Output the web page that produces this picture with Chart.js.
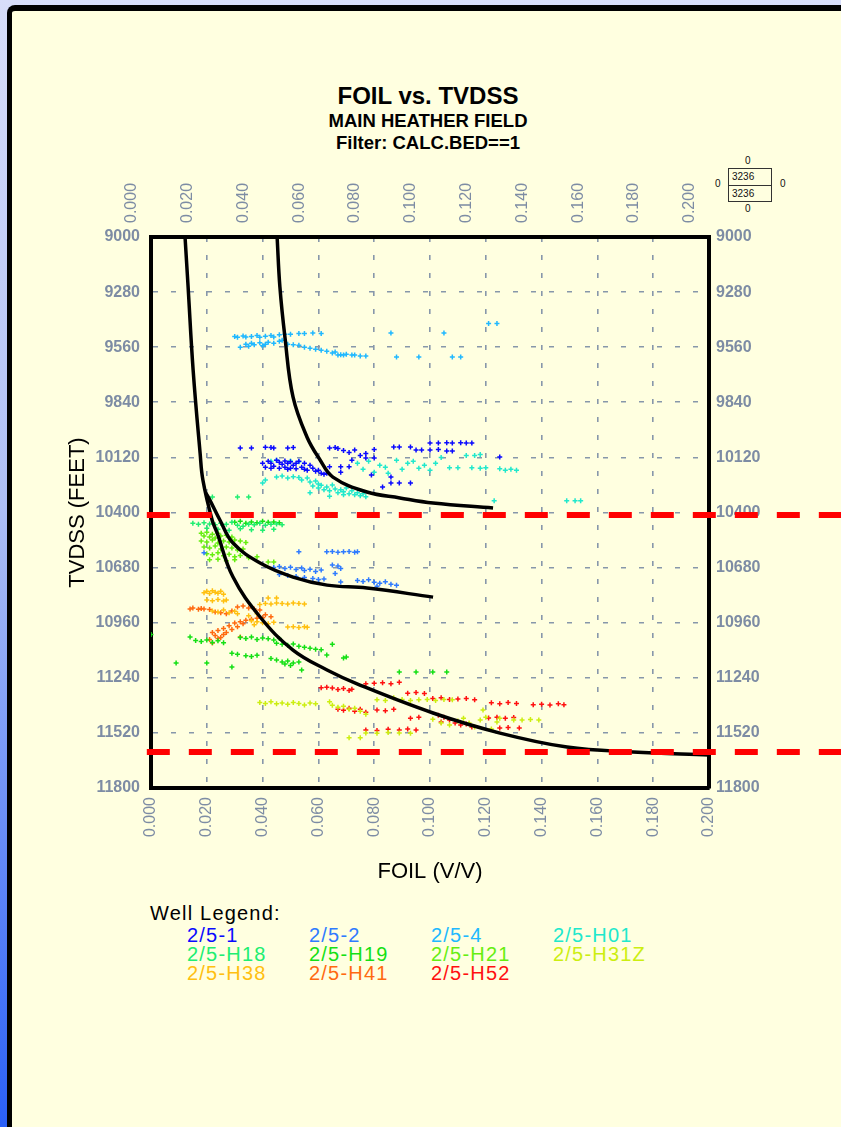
<!DOCTYPE html>
<html>
<head>
<meta charset="utf-8">
<script src="https://cdn.jsdelivr.net/npm/chart.js@4.4.1/dist/chart.umd.min.js"></script>
<style>
  html, body { margin: 0; padding: 0; }
  body {
    width: 841px; height: 1127px; overflow: hidden; position: relative;
    background: linear-gradient(to bottom, #d8defa 0%, #aebff6 45%, #2a60f8 100%);
    font-family: 'Liberation Sans', Arial, sans-serif;
  }
  #frame {
    position: absolute; left: 7px; top: 5px; width: 900px; height: 1200px;
    background: #ffffe0; border-left: 5px solid #000; border-top: 6px solid #000;
    border-top-left-radius: 8px;
  }
  .ttl { position: absolute; left: 228px; width: 400px; text-align: center; font-weight: bold; color: #000; white-space: nowrap; }
  #chartFoil { position: absolute; left: 0; top: 0; }
  .leg { position: absolute; font-size: 20px; line-height: 20px; letter-spacing: 1.2px; white-space: nowrap; }
  .box { position: absolute; left: 728px; top: 168px; width: 42px; height: 32px; border: 1px solid #333; }
  .box div { height: 16px; font-size: 10px; line-height: 16px; padding-left: 3px; color: #111; }
  .box div + div { border-top: 1px solid #333; height: 15px; }
  .z { position: absolute; font-size: 10px; line-height: 10px; color: #111; }
</style>
</head>
<body>
<div id="frame"></div>
<div class="ttl" style="top:84px;font-size:24px;line-height:24px;">FOIL vs. TVDSS</div>
<div class="ttl" style="top:110px;font-size:18.5px;line-height:22px;">MAIN HEATHER FIELD</div>
<div class="ttl" style="top:132px;font-size:18.5px;line-height:22px;">Filter: CALC.BED==1</div>

<div class="z" style="left:745px;top:156px;">0</div>
<div class="z" style="left:715px;top:179px;">0</div>
<div class="z" style="left:780px;top:179px;">0</div>
<div class="z" style="left:745px;top:204px;">0</div>
<div class="box"><div>3236</div><div>3236</div></div>

<canvas id="chartFoil" width="841" height="900"></canvas>
<div id="legend"></div>

<script>
// ===== well names / colours =====
const wellNames = ['2/5-1', '2/5-2', '2/5-4', '2/5-H01', '2/5-H18', '2/5-H19',
                   '2/5-H21', '2/5-H31Z', '2/5-H38', '2/5-H41', '2/5-H52'];
const wellColors = ['#0a0aff', '#2f7bff', '#20b8ff', '#20e8cc', '#20ee70', '#14e014',
                    '#66ee10', '#ccee10', '#ffc010', '#ff6a10', '#ff1010'];

// tick values
const foilTicks = [0, 0.02, 0.04, 0.06, 0.08, 0.10, 0.12, 0.14, 0.16, 0.18, 0.20];
const tvdssTicks = [9000, 9280, 9560, 9840, 10120, 10400, 10680, 10960, 11240, 11520, 11800];

// ===== samples per well: [FOIL, TVDSS] =====
const w25_1 = [[0.032,10072],[0.036,10072],[0.041,10068],[0.043,10070],[0.044,10072],[0.049,10072],[0.051,10070],
  [0.064,10072],[0.066,10070],[0.067,10075],[0.069,10085],[0.071,10095],[0.073,10082],[0.075,10110],[0.077,10100],
  [0.080,10080],[0.087,10067],[0.089,10067],[0.093,10067],[0.095,10082],[0.097,10082],[0.100,10082],[0.103,10080],
  [0.100,10047],[0.103,10047],[0.106,10045],[0.108,10047],[0.111,10045],[0.113,10047],[0.115,10047],[0.106,10087],
  [0.108,10087],[0.125,10118],[0.040,10150],[0.042,10140],[0.043,10150],[0.045,10135],[0.046,10145],[0.047,10155],
  [0.048,10138],[0.049,10150],[0.050,10142],[0.051,10160],[0.052,10150],[0.053,10140],[0.041,10170],[0.043,10175],
  [0.044,10165],[0.046,10175],[0.048,10170],[0.049,10180],[0.050,10175],[0.052,10178],[0.054,10170],[0.055,10180],
  [0.056,10185],[0.058,10175],[0.059,10190],[0.060,10185],[0.057,10160],[0.055,10150],[0.061,10200],[0.062,10205],
  [0.063,10200],[0.064,10168],[0.068,10168],[0.071,10168],[0.077,10123],[0.080,10123],[0.072,10135],[0.079,10210],
  [0.086,10220],[0.086,10250],[0.089,10250],[0.093,10250],[0.083,10270],[0.068,10195]];
const w25_2 = [[0.019,10605],[0.053,10600],[0.063,10600],[0.065,10598],[0.067,10602],[0.069,10600],[0.071,10598],
  [0.073,10602],[0.074,10600],[0.044,10680],[0.046,10675],[0.048,10685],[0.050,10678],[0.052,10690],[0.054,10682],
  [0.055,10695],[0.057,10688],[0.059,10700],[0.061,10692],[0.046,10715],[0.049,10720],[0.052,10725],[0.055,10730],
  [0.058,10735],[0.060,10740],[0.062,10738],[0.065,10667],[0.067,10672],[0.068,10685],[0.066,10710],[0.068,10753],
  [0.074,10745],[0.076,10750],[0.078,10742],[0.080,10755],[0.082,10760],[0.084,10752],[0.086,10765],[0.088,10770],
  [0.081,10775]];
const w25_4 = [[0.030,9505],[0.031,9510],[0.033,9503],[0.034,9508],[0.036,9506],[0.038,9500],[0.039,9510],[0.041,9504],
  [0.043,9500],[0.044,9508],[0.046,9497],[0.048,9494],[0.050,9494],[0.053,9490],[0.055,9490],[0.058,9488],[0.061,9490],
  [0.034,9545],[0.036,9540],[0.037,9548],[0.039,9538],[0.041,9545],[0.042,9535],[0.044,9540],[0.046,9530],[0.047,9525],
  [0.049,9545],[0.051,9548],[0.053,9550],[0.032,9560],[0.035,9555],[0.040,9552],[0.055,9560],[0.057,9565],[0.059,9570],
  [0.061,9575],[0.063,9580],[0.065,9590],[0.066,9585],[0.067,9600],[0.068,9598],[0.069,9600],[0.070,9596],[0.072,9600],
  [0.073,9600],[0.075,9605],[0.077,9605],[0.086,9488],[0.088,9610],[0.096,9610],[0.105,9488],[0.108,9610],[0.111,9610],
  [0.121,9440],[0.124,9440]];
const w25_H01 = [[0.043,10140],[0.045,10135],[0.050,10138],[0.053,10142],[0.040,10250],[0.041,10235],[0.045,10220],
  [0.047,10215],[0.049,10225],[0.051,10218],[0.053,10222],[0.054,10235],[0.056,10225],[0.057,10245],[0.059,10240],
  [0.060,10255],[0.058,10265],[0.060,10275],[0.061,10262],[0.062,10285],[0.063,10270],[0.064,10290],[0.065,10260],
  [0.066,10280],[0.067,10300],[0.068,10285],[0.069,10295],[0.070,10275],[0.071,10305],[0.072,10290],[0.073,10310],
  [0.074,10300],[0.075,10315],[0.076,10305],[0.077,10320],[0.057,10300],[0.064,10318],[0.069,10310],[0.074,10150],
  [0.076,10180],[0.078,10140],[0.080,10195],[0.082,10160],[0.084,10170],[0.085,10200],[0.088,10135],[0.090,10180],
  [0.092,10150],[0.094,10140],[0.096,10175],[0.098,10160],[0.100,10185],[0.102,10150],[0.104,10120],[0.107,10173],
  [0.110,10173],[0.113,10110],[0.116,10110],[0.118,10105],[0.115,10173],[0.118,10175],[0.120,10172],[0.125,10178],
  [0.127,10185],[0.129,10180],[0.131,10185],[0.123,10340],[0.149,10340],[0.152,10340],[0.154,10340]];
const w25_H18 = [[0.022,10321],[0.031,10321],[0.035,10321],[0.015,10455],[0.017,10460],[0.019,10452],[0.021,10458],
  [0.023,10462],[0.025,10455],[0.027,10460],[0.029,10450],[0.031,10465],[0.033,10470],[0.035,10460],[0.037,10462],
  [0.039,10455],[0.041,10465],[0.043,10460],[0.045,10458],[0.047,10462],[0.020,10480],[0.024,10485],[0.028,10490],
  [0.032,10482],[0.036,10488],[0.040,10490],[0.044,10485]];
const w25_H19 = [[0.030,10450],[0.032,10445],[0.034,10455],[0.036,10448],[0.038,10452],[0.040,10445],[0.042,10450],
  [0.044,10448],[0.046,10452],[0.000,11020],[0.014,11033],[0.016,11050],[0.018,11055],[0.020,11048],[0.022,11060],
  [0.024,11052],[0.026,11062],[0.032,11035],[0.034,11040],[0.036,11033],[0.038,11045],[0.040,11038],[0.042,11042],
  [0.044,11048],[0.046,11040],[0.045,11065],[0.047,11070],[0.049,11075],[0.051,11068],[0.053,11080],[0.055,11085],
  [0.057,11090],[0.059,11095],[0.061,11098],[0.065,11070],[0.029,11115],[0.031,11120],[0.034,11128],[0.036,11132],
  [0.038,11125],[0.043,11142],[0.045,11150],[0.047,11160],[0.049,11155],[0.051,11165],[0.053,11160],[0.048,11170],
  [0.050,11178],[0.009,11165],[0.020,11165],[0.029,11185],[0.054,11200],[0.063,11124],[0.069,11140],[0.070,11134],
  [0.089,11210],[0.095,11210],[0.101,11210],[0.106,11210]];
const w25_H21 = [[0.018,10505],[0.020,10500],[0.022,10510],[0.024,10505],[0.019,10520],[0.021,10525],[0.023,10530],
  [0.025,10520],[0.027,10515],[0.029,10525],[0.018,10545],[0.020,10550],[0.022,10540],[0.024,10555],[0.026,10545],
  [0.028,10550],[0.030,10540],[0.032,10545],[0.034,10552],[0.019,10575],[0.021,10580],[0.023,10570],[0.025,10585],
  [0.027,10575],[0.029,10580],[0.031,10590],[0.033,10585],[0.020,10610],[0.022,10615],[0.024,10605],[0.026,10620],
  [0.028,10612],[0.030,10625],[0.032,10618],[0.035,10630],[0.038,10625],[0.021,10640],[0.024,10638],[0.027,10645],
  [0.030,10640],[0.042,10651],[0.044,10651]];
const w25_H31Z = [[0.039,11365],[0.041,11370],[0.043,11362],[0.045,11372],[0.047,11368],[0.049,11375],[0.051,11365],
  [0.053,11370],[0.055,11378],[0.057,11368],[0.059,11372],[0.064,11362],[0.065,11380],[0.067,11390],[0.069,11385],
  [0.071,11400],[0.073,11395],[0.075,11410],[0.077,11425],[0.081,11352],[0.084,11355],[0.087,11342],[0.090,11350],
  [0.093,11355],[0.096,11352],[0.099,11350],[0.102,11355],[0.105,11350],[0.108,11352],[0.101,11450],[0.104,11470],
  [0.107,11480],[0.110,11460],[0.112,11445],[0.114,11470],[0.116,11490],[0.118,11455],[0.120,11440],[0.122,11500],
  [0.124,11465],[0.125,11445],[0.130,11454],[0.133,11455],[0.136,11452],[0.139,11454],[0.071,11545],[0.075,11545],
  [0.077,11520],[0.081,11522],[0.085,11518],[0.089,11520],[0.093,11522],[0.119,11403]];
const w25_H38 = [[0.019,10808],[0.020,10800],[0.021,10812],[0.022,10798],[0.023,10805],[0.024,10810],[0.025,10800],
  [0.026,10815],[0.020,10845],[0.022,10848],[0.024,10842],[0.026,10850],[0.027,10845],[0.022,10900],[0.024,10905],
  [0.026,10895],[0.028,10910],[0.030,10902],[0.031,10915],[0.039,10868],[0.041,10862],[0.043,10865],[0.045,10860],
  [0.047,10862],[0.049,10865],[0.051,10860],[0.053,10862],[0.055,10865],[0.042,10835],[0.045,10835],[0.036,10950],
  [0.038,10955],[0.040,10960],[0.042,10965],[0.044,10958],[0.037,10970],[0.049,10982],[0.051,10980],[0.053,10985],
  [0.055,10980],[0.056,10983],[0.035,10925],[0.038,10915]];
const w25_H41 = [[0.014,10890],[0.015,10885],[0.017,10892],[0.018,10888],[0.019,10890],[0.021,10893],[0.023,10905],
  [0.025,10910],[0.027,10915],[0.029,10900],[0.031,10880],[0.033,10875],[0.035,10885],[0.037,10890],[0.039,10895],
  [0.041,10920],[0.043,10930],[0.021,11045],[0.022,11010],[0.023,11025],[0.024,11000],[0.025,11035],[0.026,10990],
  [0.027,11010],[0.028,10975],[0.029,10995],[0.030,10962],[0.031,10980],[0.032,10955],[0.033,10965],[0.034,10948],
  [0.036,10942],[0.038,10938],[0.040,10935],[0.026,11020],[0.024,11040],[0.022,11063],[0.032,11033]];
const w25_H52 = [[0.061,11290],[0.063,11288],[0.065,11292],[0.067,11300],[0.069,11295],[0.071,11305],[0.072,11298],
  [0.077,11270],[0.080,11268],[0.083,11265],[0.086,11270],[0.089,11262],[0.092,11318],[0.095,11315],[0.098,11320],
  [0.101,11345],[0.104,11342],[0.107,11350],[0.110,11348],[0.113,11345],[0.116,11352],[0.067,11400],[0.069,11405],
  [0.071,11395],[0.073,11410],[0.075,11400],[0.077,11415],[0.081,11403],[0.084,11408],[0.087,11400],[0.093,11445],
  [0.096,11440],[0.103,11430],[0.105,11440],[0.107,11455],[0.109,11470],[0.111,11480],[0.113,11475],[0.115,11490],
  [0.104,11465],[0.122,11367],[0.125,11372],[0.128,11365],[0.131,11370],[0.137,11377],[0.140,11375],[0.143,11378],
  [0.146,11372],[0.148,11377],[0.121,11444],[0.124,11440],[0.127,11446],[0.130,11442],[0.125,11495],[0.128,11492],
  [0.132,11495],[0.077,11505],[0.081,11508],[0.085,11502],[0.089,11505],[0.092,11500],[0.095,11505]];

const wellPoints = [w25_1, w25_2, w25_4, w25_H01, w25_H18, w25_H19, w25_H21, w25_H31Z, w25_H38, w25_H41, w25_H52];

// ===== fitted curves (black) =====
const curveUpper = [[0.0452,9000],[0.0462,9254],[0.0480,9508],[0.0509,9813],[0.0559,10016],[0.0606,10133],
  [0.0652,10220],[0.0774,10296],[0.0892,10326],[0.1011,10352],[0.1226,10377]];
const curveMiddle = [[0.0197,10301],[0.0211,10337],[0.0247,10438],[0.0294,10555],[0.0391,10657],[0.0509,10728],
  [0.0631,10769],[0.0774,10784],[0.1011,10830]];
const curveLower = [[0.0122,9000],[0.0133,9254],[0.0151,9676],[0.0176,10098],[0.0186,10235],[0.0219,10438],
  [0.0237,10504],[0.0294,10728],[0.0391,10931],[0.0509,11099],[0.0631,11200],[0.0749,11277],[0.1011,11419],
  [0.1251,11521],[0.1491,11592],[0.1727,11617],[0.2000,11632]];

// ===== red zone limits =====
const limitTop = [[-0.0015,10413],[0.25,10413]];
const limitBase = [[-0.0015,11617],[0.25,11617]];

const toXY = arr => arr.map(p => ({ x: p[0], y: p[1] }));
const tickGray = '#7d8ca4';
const fontFam = "'Liberation Sans', Arial, sans-serif";

function limitSet(pts) {
    return {
        data: toXY(pts), showLine: true, borderColor: '#ff0000', borderWidth: 6,
        borderDash: [23, 19], pointRadius: 0, clip: false
    };
}
function curveSet(pts) {
    return {
        data: toXY(pts), showLine: true, borderColor: '#000000', borderWidth: 3.5,
        tension: 0.4, pointRadius: 0
    };
}

const datasets = [limitSet(limitTop), limitSet(limitBase),
    curveSet(curveUpper), curveSet(curveMiddle), curveSet(curveLower)];
wellPoints.forEach((pts, i) => {
    datasets.push({
        label: wellNames[i],
        data: toXY(pts),
        pointStyle: 'cross',
        pointRadius: 2.5,
        borderWidth: 1.5,
        borderColor: wellColors[i],
        backgroundColor: wellColors[i]
    });
});

const xTickOpts = {
    autoSkip: false, minRotation: 90, maxRotation: 90, color: tickGray,
    font: { family: fontFam, size: 16 },
    callback: v => Number(v).toFixed(3)
};
const yTickOpts = {
    autoSkip: false, color: tickGray,
    font: { family: fontFam, size: 16, weight: 'bold' },
    callback: v => String(v)
};
const gridOpts = { color: '#8797aa', lineWidth: 1.6, drawTicks: false };
const borderOpts = { color: '#000', width: 4, dash: [5, 13] };

Chart.defaults.font.family = fontFam;

new Chart(document.getElementById('chartFoil'), {
    type: 'scatter',
    data: { datasets },
    options: {
        responsive: false,
        animation: false,
        layout: { padding: { left: 61, top: 0, right: 0, bottom: 0 } },
        plugins: { legend: { display: false }, tooltip: { enabled: false } },
        scales: {
            x: {
                type: 'linear', position: 'bottom', min: 0, max: 0.2,
                afterBuildTicks: s => { s.ticks = foilTicks.map(v => ({ value: v })); },
                ticks: { ...xTickOpts, padding: 9 },
                grid: gridOpts, border: borderOpts,
                title: { display: true, text: 'FOIL (V/V)', color: '#000',
                         font: { size: 22 }, padding: { top: 4, bottom: 15 } },
                afterFit: s => { s.height = 112; }
            },
            xTop: {
                type: 'linear', position: 'top', min: 0, max: 0.2,
                afterBuildTicks: s => { s.ticks = foilTicks.map(v => ({ value: v })); },
                ticks: { ...xTickOpts, padding: 14 },
                grid: { ...gridOpts, drawOnChartArea: false }, border: borderOpts,
                afterFit: s => { s.height = 237; }
            },
            y: {
                type: 'linear', position: 'left', reverse: true, min: 9000, max: 11800,
                afterBuildTicks: s => { s.ticks = tvdssTicks.map(v => ({ value: v })); },
                ticks: { ...yTickOpts, padding: 11 },
                grid: gridOpts, border: borderOpts,
                title: { display: true, text: 'TVDSS (FEET)', color: '#000',
                         font: { size: 22 }, padding: { top: 4, bottom: 4 } },
                afterFit: s => { s.width = 90; }
            },
            yRight: {
                type: 'linear', position: 'right', reverse: true, min: 9000, max: 11800,
                afterBuildTicks: s => { s.ticks = tvdssTicks.map(v => ({ value: v })); },
                ticks: { ...yTickOpts, padding: 7 },
                grid: { ...gridOpts, drawOnChartArea: false }, border: borderOpts,
                afterFit: s => { s.width = 132; }
            }
        }
    }
});

// ===== well legend =====
const legend = document.getElementById('legend');
const head = document.createElement('div');
head.className = 'leg';
head.style.left = '150px';
head.style.top = '903px';
head.style.color = '#000';
head.textContent = 'Well Legend:';
legend.appendChild(head);
const colX = [187, 309, 431, 553];
wellNames.forEach((name, i) => {
    const d = document.createElement('div');
    d.className = 'leg';
    d.style.left = colX[i % 4] + 'px';
    d.style.top = (925 + Math.floor(i / 4) * 19) + 'px';
    d.style.color = wellColors[i];
    d.textContent = name;
    legend.appendChild(d);
});
</script>
</body>
</html>
